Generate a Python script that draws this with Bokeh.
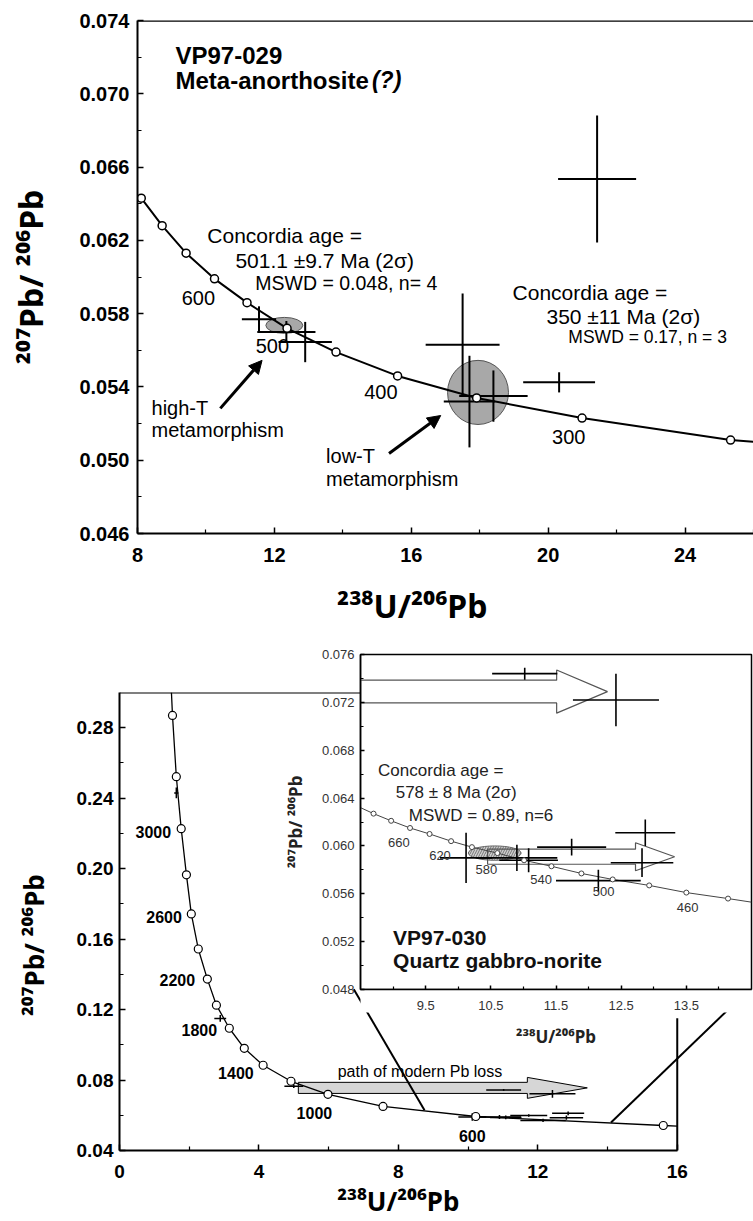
from bokeh.plotting import figure
from bokeh.models import (Range1d, FixedTicker, PrintfTickFormatter, Label, Arrow,
                          NormalHead, Span, GridBox, LinearAxis, ColumnDataSource)
from bokeh.layouts import column
from bokeh.embed import file_html
from bokeh.resources import INLINE

FONT = "Liberation Sans"
TITLE_FONT = "Noto Sans"
NB = "\u00a0"  # non-breaking space, used to shift centred axis titles

# ---------------- data: upper chart (VP97-029) ----------------
top_conc_x = [8.11, 8.72, 9.42, 10.25, 11.2, 12.37, 13.8, 15.6, 17.91, 20.99, 25.33]
top_conc_y = [0.0643, 0.0628, 0.0613, 0.0599, 0.0586, 0.0572, 0.0559, 0.0546, 0.0534, 0.0523, 0.0511]
top_line_end_x = [26.0]
top_line_end_y = [0.0510]
top_cross_x = [11.55, 12.35, 12.90, 17.50, 18.40, 17.70, 20.32, 21.43]
top_cross_y = [0.0577, 0.0570, 0.05645, 0.0563, 0.0535, 0.0532, 0.05425, 0.06535]
top_cross_ex = [0.50, 0.85, 0.78, 1.08, 1.00, 0.75, 1.05, 1.14]
top_cross_ey = [0.0007, 0.0006, 0.0011, 0.0028, 0.0014, 0.0025, 0.00055, 0.00347]
top_ell_x = [12.29, 17.95]
top_ell_y = [0.05736, 0.0537]
top_ell_w = [1.08, 1.78]
top_ell_h = [0.00087, 0.0035]
top_xticks = [8, 12, 16, 20, 24]
top_xminor = [10, 14, 18, 22, 26]
top_yticks = [0.046, 0.050, 0.054, 0.058, 0.062, 0.066, 0.070, 0.074]
top_yminor = [0.048, 0.052, 0.056, 0.060, 0.064, 0.068, 0.072]
top_age_labels = ["600", "500", "400", "300"]
top_arrow_x0 = [10.42, 15.35]
top_arrow_y0 = [0.05283, 0.05037]
top_arrow_x1 = [11.64, 16.86]
top_arrow_y1 = [0.05545, 0.05244]

# ---------------- data: lower chart (VP97-030) ----------------
main_conc_x = [1.52, 1.63, 1.77, 1.92, 2.06, 2.26, 2.52, 2.78, 3.15, 3.58, 4.12, 4.92, 5.98, 7.56, 10.22, 15.60]
main_conc_y = [0.287, 0.2522, 0.2227, 0.1965, 0.1743, 0.1544, 0.1373, 0.1225, 0.1094, 0.0980, 0.0884, 0.0793, 0.0719, 0.0650, 0.0593, 0.0542]
main_line_start = (1.49, 0.30)
main_line_end = (16.0, 0.0538)
main_cross_x = [1.63, 2.89, 5.00]
main_cross_y = [0.243, 0.115, 0.0765]
main_cross_ex = [0.06, 0.17, 0.27]
main_cross_ey = [0.003, 0.0019, 0.001]
main_age_labels = ["3000", "2600", "2200", "1800", "1400", "1000", "600"]
main_xticks = [0, 4, 8, 12, 16]
main_xminor = [2, 6, 10, 14]
main_yticks = [0.04, 0.08, 0.12, 0.16, 0.20, 0.24, 0.28]
main_yminor = [0.06, 0.10, 0.14, 0.18, 0.22, 0.26]
# path of modern Pb loss arrow: start, head base, tip, centre, half shaft, half head
pbloss_arrow = [5.13, 11.7, 13.42, 0.07555, 0.00315, 0.00595]
# lines joining inset corners to the concordia
zoom_x0 = [6.72, 18.07]
zoom_y0 = [0.1316, 0.1316]
zoom_x1 = [8.75, 14.10]
zoom_y1 = [0.0628, 0.0559]

inset_conc_x = [8.70, 8.97, 9.26, 9.56, 9.89, 10.21, 10.60, 11.01, 11.43, 11.89, 12.37, 12.93, 13.50, 14.14]
inset_conc_y = [0.0627, 0.0621, 0.0615, 0.0610, 0.0604, 0.0599, 0.0594, 0.0588, 0.0583, 0.0577, 0.0572, 0.0567, 0.0561, 0.0556]
inset_line_start = (8.5, 0.0632)
inset_line_end = (14.5, 0.0553)
inset_cross_x = [11.02, 12.42, 10.12, 10.90, 11.08, 11.74, 12.87, 12.82, 12.15]
inset_cross_y = [0.0744, 0.0722, 0.0590, 0.0590, 0.0588, 0.0599, 0.0611, 0.0586, 0.0571]
inset_cross_ex = [0.50, 0.66, 0.40, 0.62, 0.45, 0.53, 0.46, 0.48, 0.65]
inset_cross_ey = [0.0005, 0.0022, 0.0021, 0.0011, 0.0010, 0.0007, 0.0011, 0.0012, 0.0009]
inset_ell = [10.56, 0.0594, 0.81, 0.0012]
inset_arrows = [
    [8.5, 11.51, 12.29, 0.0729, 0.00095, 0.0018],
    [10.45, 12.72, 13.32, 0.0591, 0.00063, 0.00117],
]
inset_age_labels = ["660", "620", "580", "540", "500", "460"]
inset_xticks = [9.5, 10.5, 11.5, 12.5, 13.5]
inset_xminor = [9, 10, 11, 12, 13, 14]
inset_yticks = [0.048, 0.052, 0.056, 0.060, 0.064, 0.068, 0.072, 0.076]
inset_yminor = [0.050, 0.054, 0.058, 0.062, 0.066, 0.070, 0.074]

X_TITLE = "²³⁸U/²⁰⁶Pb"
Y_TITLE = "²⁰⁷Pb/ ²⁰⁶Pb"


def lab(p, x, y, text, size, style="normal", align="left", color="black"):
    p.add_layout(Label(x=x, y=y, text=text, text_font=FONT, text_font_size=f"{size}px",
                       text_font_style=style, text_align=align, text_baseline="middle",
                       text_color=color))


def crosses(p, xs, ys, exs, eys, **kw):
    p.segment(x0=[x - e for x, e in zip(xs, exs)], y0=ys,
              x1=[x + e for x, e in zip(xs, exs)], y1=ys, **kw)
    p.segment(x0=xs, y0=[y - e for y, e in zip(ys, eys)],
              x1=xs, y1=[y + e for y, e in zip(ys, eys)], **kw)


def arrow_shape(a):
    x0, xb, xt, yc, sh, hh = a
    return ([x0, xb, xb, xt, xb, xb, x0],
            [yc - sh, yc - sh, yc - hh, yc, yc + hh, yc + sh, yc + sh])


def style_axis(ax, label, title_size, label_size, label_style="bold", title_style="bold",
               tick_in=6, minor_in=4, line_w=2, color="black"):
    ax.axis_label = label
    ax.axis_label_text_font = TITLE_FONT
    ax.axis_label_text_font_size = f"{title_size}px"
    ax.axis_label_text_font_style = title_style
    ax.axis_label_text_color = color
    ax.major_label_text_font = FONT
    ax.major_label_text_font_size = f"{label_size}px"
    ax.major_label_text_font_style = label_style
    ax.major_label_text_color = color
    ax.major_tick_in = tick_in
    ax.major_tick_out = 0
    ax.minor_tick_in = minor_in
    ax.minor_tick_out = 0
    ax.axis_line_width = line_w
    ax.major_tick_line_width = 1.5
    ax.minor_tick_line_width = 1.2


# ======================= upper figure =======================
p1 = figure(width=753, height=640, x_range=Range1d(8, 26), y_range=Range1d(0.046, 0.074),
            output_backend="svg", toolbar_location=None,
            min_border_left=137, min_border_right=0, min_border_top=20, min_border_bottom=107)
p1.grid.visible = False
p1.outline_line_color = None
p1.add_layout(Span(location=0.074, dimension="width", line_color="black", line_width=2.5))

xa = p1.xaxis[0]
style_axis(xa, X_TITLE + NB * 8, 32, 20)
xa.ticker = FixedTicker(ticks=top_xticks, minor_ticks=top_xminor)
xa.formatter = PrintfTickFormatter(format="%d")
xa.major_label_standoff = 14
xa.axis_label_standoff = 19
ya = p1.yaxis[0]
style_axis(ya, Y_TITLE, 32, 20)
ya.ticker = FixedTicker(ticks=top_yticks, minor_ticks=top_yminor)
ya.formatter = PrintfTickFormatter(format="%.3f")
ya.major_label_standoff = 8
ya.axis_label_standoff = 24

p1.ellipse(x=top_ell_x, y=top_ell_y, width=top_ell_w, height=top_ell_h,
           fill_color="#a8a8a8", line_color="#555555", line_width=1)
p1.line(top_conc_x + top_line_end_x, top_conc_y + top_line_end_y, line_color="black", line_width=2)
crosses(p1, top_cross_x, top_cross_y, top_cross_ex, top_cross_ey, line_color="black", line_width=2)
p1.scatter(top_conc_x, top_conc_y, size=8, fill_color="white", line_color="black", line_width=1.5)

arr_src = ColumnDataSource(dict(x0=top_arrow_x0, y0=top_arrow_y0, x1=top_arrow_x1, y1=top_arrow_y1))
p1.add_layout(Arrow(end=NormalHead(size=13, fill_color="black", line_color="black"),
                    x_start="x0", y_start="y0", x_end="x1", y_end="y1", source=arr_src,
                    line_width=3, line_color="black"))

lab(p1, 9.11, 0.07209, "VP97-029", 24, "bold")
lab(p1, 9.11, 0.07073, "Meta-anorthosite", 24, "bold")
lab(p1, 14.85, 0.07073, "(?)", 23, "bold italic")
lab(p1, 10.04, 0.06227, "Concordia age =", 21)
lab(p1, 10.86, 0.06090, "501.1 ±9.7 Ma (2σ)", 21)
lab(p1, 11.44, 0.05965, "MSWD = 0.048, n= 4", 19.5)
lab(p1, 18.96, 0.05916, "Concordia age =", 21)
lab(p1, 19.95, 0.05785, "350 ±11 Ma (2σ)", 21)
lab(p1, 20.59, 0.05672, "MSWD = 0.17, n = 3", 17.5)
for t, x, y in zip(top_age_labels, [9.78, 11.94, 15.11, 20.6], [0.05888, 0.05626, 0.0537, 0.05124]):
    lab(p1, x, y, t, 20, align="center")
lab(p1, 8.41, 0.05283, "high-T", 20)
lab(p1, 8.41, 0.05163, "metamorphism", 20)
lab(p1, 13.51, 0.05021, "low-T", 20)
lab(p1, 13.51, 0.04895, "metamorphism", 20)

# ======================= lower main figure =======================
p2 = figure(width=753, height=581, x_range=Range1d(0, 18.13), y_range=Range1d(0.04, 0.30),
            output_backend="svg", toolbar_location=None,
            min_border_left=119, min_border_right=0, min_border_top=52, min_border_bottom=71)
p2.grid.visible = False
p2.outline_line_color = None
p2.add_layout(Span(location=0.30, dimension="width", line_color="black", line_width=2))
p2.segment(x0=[16], y0=[0.04], x1=[16], y1=[0.1151], line_color="black", line_width=2)

xb = p2.xaxis[0]
style_axis(xb, X_TITLE + NB * 11, 26, 19)
xb.ticker = FixedTicker(ticks=main_xticks, minor_ticks=main_xminor)
xb.formatter = PrintfTickFormatter(format="%d")
xb.bounds = (0, 16)
xb.major_label_standoff = 14
xb.axis_label_standoff = 2
yb = p2.yaxis[0]
style_axis(yb, Y_TITLE + NB * 7, 26, 19)
yb.ticker = FixedTicker(ticks=main_yticks, minor_ticks=main_yminor)
yb.formatter = PrintfTickFormatter(format="%.2f")
yb.major_label_standoff = 6
yb.axis_label_standoff = 22

px, py = arrow_shape(pbloss_arrow)
p2.patch(px, py, fill_color="#d6d6d6", line_color="black", line_width=1)
p2.segment(x0=zoom_x0, y0=zoom_y0, x1=zoom_x1, y1=zoom_y1, line_color="black", line_width=2)
p2.line([main_line_start[0]] + main_conc_x + [main_line_end[0]],
        [main_line_start[1]] + main_conc_y + [main_line_end[1]], line_color="black", line_width=1.3)
crosses(p2, main_cross_x + inset_cross_x, main_cross_y + inset_cross_y,
        main_cross_ex + inset_cross_ex, main_cross_ey + inset_cross_ey,
        line_color="black", line_width=1.5)
p2.scatter(main_conc_x, main_conc_y, size=8, fill_color="white", line_color="black", line_width=1.2)

for t, x, y, al in zip(main_age_labels,
                       [1.48, 1.79, 2.17, 2.80, 3.85, 5.08, 10.12],
                       [0.2209, 0.1726, 0.1367, 0.1083, 0.0839, 0.0611, 0.0485],
                       ["right", "right", "right", "right", "right", "left", "center"]):
    lab(p2, x, y, t, 16, "bold", align=al)
lab(p2, 6.26, 0.0850, "path of modern Pb loss", 16)

# ======================= inset figure =======================
p3 = figure(width=473, height=437, x_range=Range1d(8.5, 14.5), y_range=Range1d(0.048, 0.076),
            output_backend="svg", toolbar_location=None, x_axis_location=None,
            min_border_left=74, min_border_right=2, min_border_top=10, min_border_bottom=92)
p3.grid.visible = False
p3.border_fill_alpha = 0
p3.background_fill_color = "white"
p3.outline_line_color = "black"
p3.outline_line_width = 1.5

xi = LinearAxis()
style_axis(xi, "", 17, 13, label_style="normal", tick_in=4, minor_in=3, line_w=1.5, color="#333333")
xi.ticker = FixedTicker(ticks=inset_xticks, minor_ticks=inset_xminor)
xi.formatter = PrintfTickFormatter(format="%.1f")
xi.major_label_standoff = 11
xi.background_fill_color = "white"
p3.add_layout(xi, "below")
xt = LinearAxis()
style_axis(xt, X_TITLE, 17, 1, color="#222222")
xt.ticker = FixedTicker(ticks=[])
xt.axis_line_color = None
xt.major_tick_line_color = None
xt.minor_tick_line_color = None
xt.axis_label_standoff = 12
p3.add_layout(xt, "below")

yi = p3.yaxis[0]
style_axis(yi, Y_TITLE, 17, 13, label_style="normal", tick_in=4, minor_in=3, line_w=1.5, color="#333333")
yi.axis_label_text_color = "#222222"
yi.ticker = FixedTicker(ticks=inset_yticks, minor_ticks=inset_yminor)
yi.formatter = PrintfTickFormatter(format="%.3f")
yi.major_label_standoff = 6
yi.axis_label_standoff = 12

p3.ellipse(x=[inset_ell[0]], y=[inset_ell[1]], width=[inset_ell[2]], height=[inset_ell[3]],
           fill_color="#cfcfcf", line_color="#666666", hatch_pattern="/", hatch_color="#777777",
           hatch_scale=5, line_width=1)
for a in inset_arrows:
    ax_, ay_ = arrow_shape(a)
    p3.patch(ax_, ay_, fill_alpha=0, line_color="#555555", line_width=1.2)
p3.line([inset_line_start[0]] + inset_conc_x + [inset_line_end[0]],
        [inset_line_start[1]] + inset_conc_y + [inset_line_end[1]], line_color="#444444", line_width=1)
crosses(p3, inset_cross_x, inset_cross_y, inset_cross_ex, inset_cross_ey,
        line_color="black", line_width=1.6)
p3.scatter(inset_conc_x, inset_conc_y, size=5, fill_color="white", line_color="#444444", line_width=1)

for t, x, y in zip(inset_age_labels, [9.09, 9.72, 10.43, 11.27, 12.23, 13.52],
                   [0.06029, 0.05920, 0.05803, 0.0572, 0.0562, 0.05485]):
    lab(p3, x, y, t, 13, align="center", color="#333333")
lab(p3, 8.77, 0.0663, "Concordia age =", 17, color="#222222")
lab(p3, 9.04, 0.06447, "578 ± 8 Ma (2σ)", 17, color="#222222")
lab(p3, 9.24, 0.06254, "MSWD = 0.89, n=6", 17, color="#222222")
lab(p3, 9.0, 0.05235, "VP97-030", 21, "bold", color="#111111")
lab(p3, 9.0, 0.05043, "Quartz gabbro-norite", 21, "bold", color="#111111")

# main plot spans all three rows; the inset sits in the middle row only, so the
# grid does not align the two plots' bottom borders
grid = GridBox(children=[(p2, 0, 0, 3, 2), (p3, 1, 1, 1, 1)],
               rows=["4px", "437px", "140px"], cols=["280px", "473px"])
layout = column(p1, grid)

open("out.html", "w").write(file_html(layout, INLINE))
